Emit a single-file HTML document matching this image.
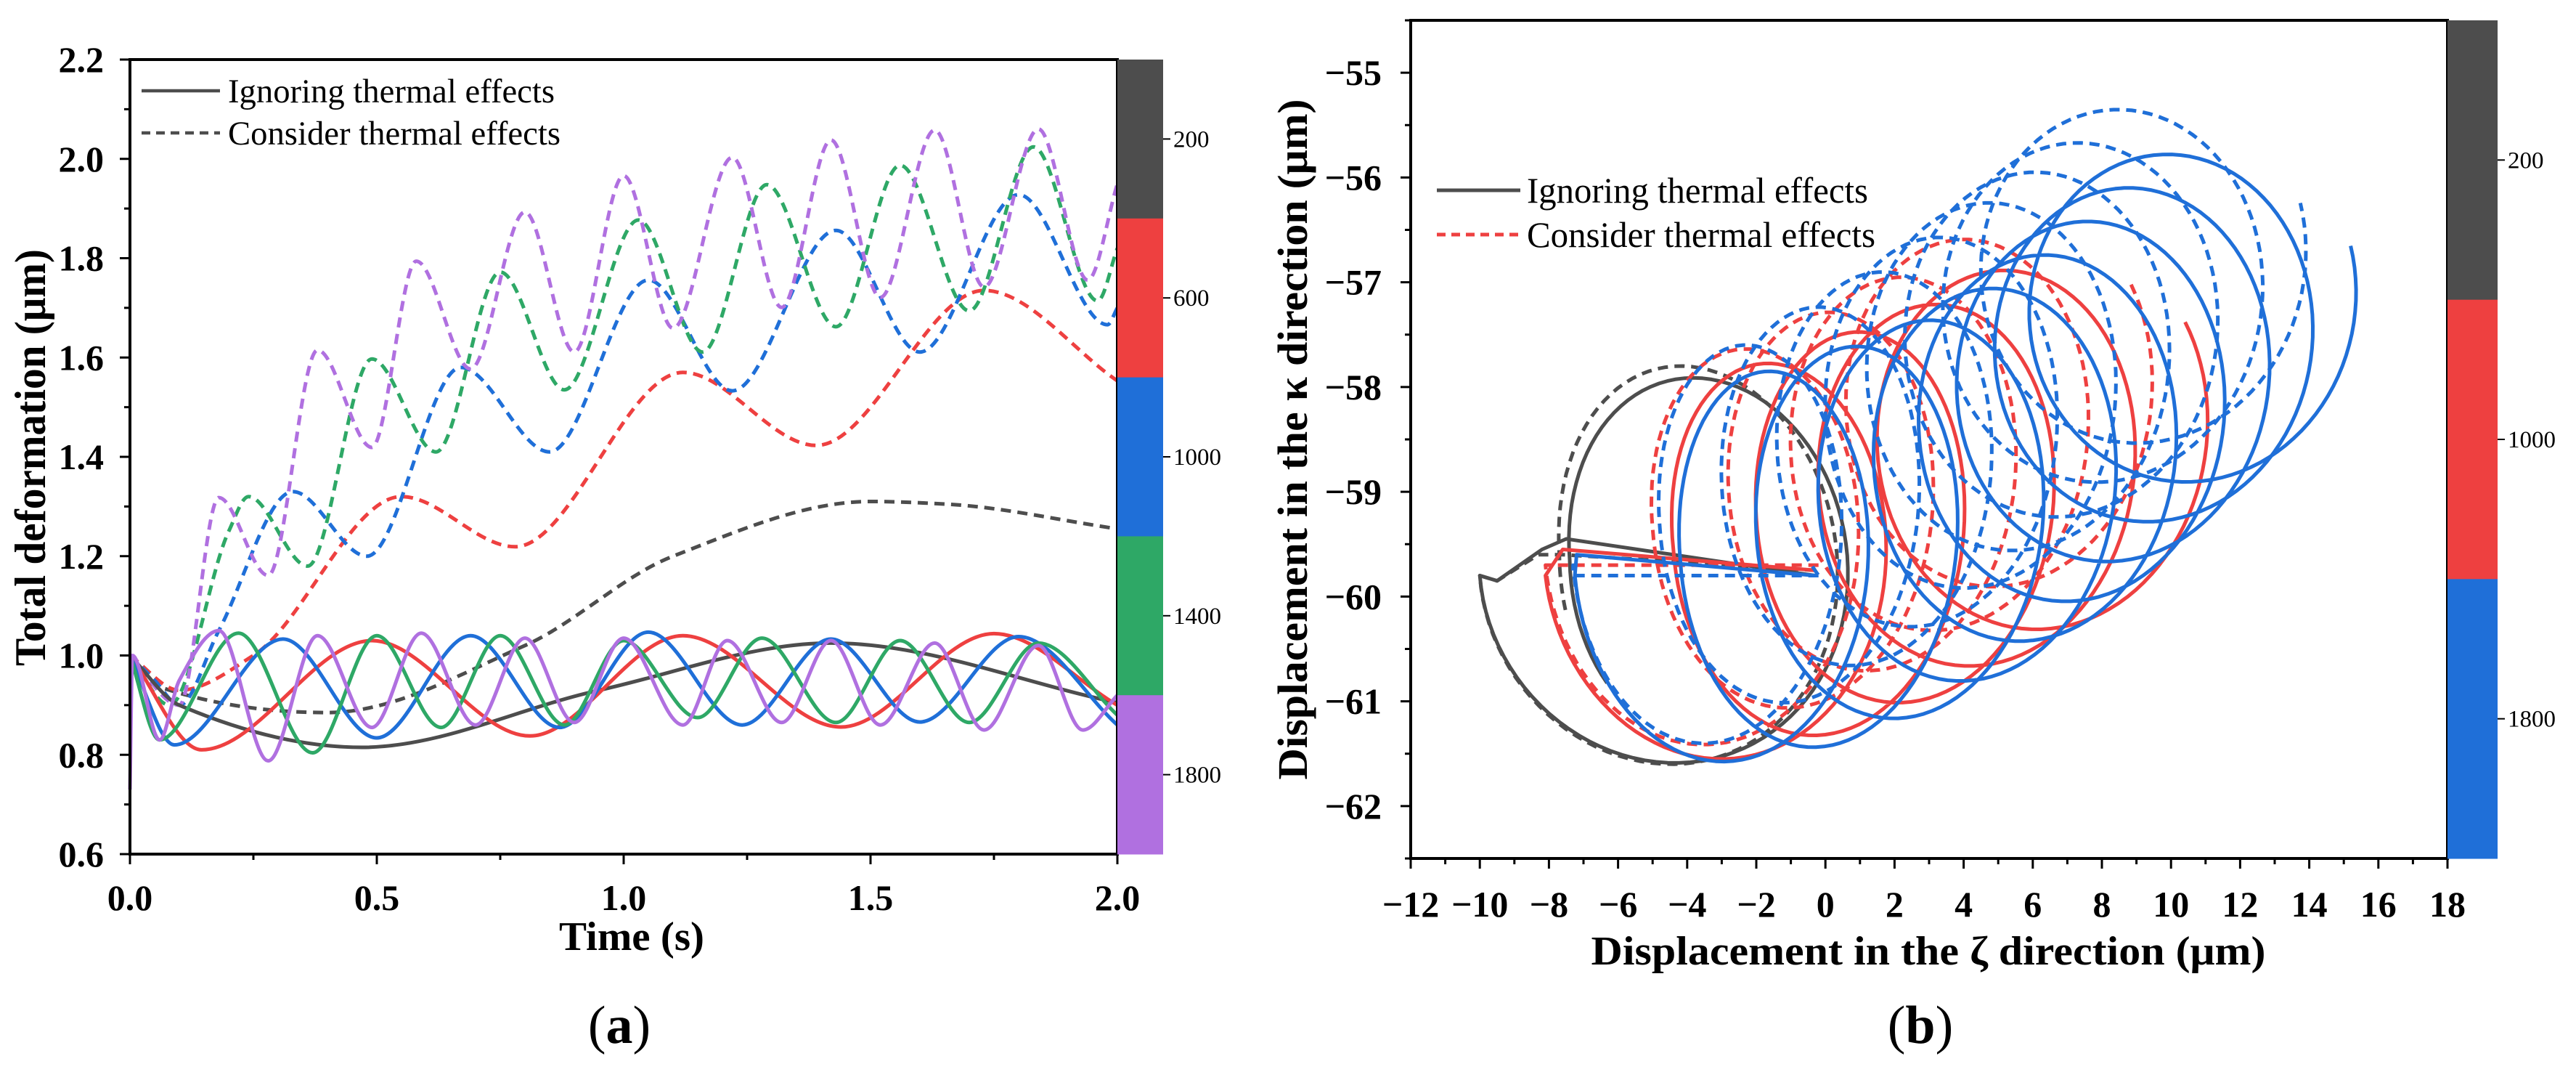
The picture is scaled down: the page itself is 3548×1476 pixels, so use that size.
<!DOCTYPE html>
<html><head><meta charset="utf-8"><style>
html,body{margin:0;padding:0;background:#fff;}
svg{display:block;font-family:"Liberation Serif",serif;}
</style></head><body>
<svg id="fig" width="3548" height="1476" viewBox="0 0 3548 1476" xmlns="http://www.w3.org/2000/svg">
<rect x="0" y="0" width="3548" height="1476" fill="#fff"/>
<g id="pa"></g>
<g id="pb"></g>
</svg>
<script>
// ---------- Chart (a) data ----------
const aTicksX = ["0.0","0.5","1.0","1.5","2.0"];
const aTickValsX = [0,0.5,1.0,1.5,2.0];
const aTicksY = ["0.6","0.8","1.0","1.2","1.4","1.6","1.8","2.0","2.2"];
const aTickValsY = [0.6,0.8,1.0,1.2,1.4,1.6,1.8,2.0,2.2];
const aCbLabels = ["200","600","1000","1400","1800"];
const graySolidT = [0,0.1,0.47,0.95,1.42,2.0];
const graySolidV = [1.0,0.9,0.815,0.93,1.025,0.905];
const grayDashT = [0,0.05,0.4,0.8,1.1,1.5,1.65,2.0];
const grayDashV = [1.0,0.94,0.885,1.02,1.2,1.31,1.305,1.255];
const redSolidT = [0,0.145,0.49,0.81,1.12,1.44,1.75,2.0];
const redSolidV = [1.0,0.81,1.03,0.838,1.04,0.856,1.044,0.9];
const redDashT = [0,0.1,0.25,0.55,0.78,1.12,1.39,1.73,2.0];
const redDashV = [1.0,0.93,1.0,1.32,1.219,1.57,1.423,1.735,1.553];
const blueSolidT = [0,0.09,0.31,0.5,0.69,0.87,1.05,1.24,1.42,1.6,1.8,2.0];
const blueSolidV = [1.0,0.82,1.033,0.834,1.04,0.855,1.047,0.86,1.033,0.866,1.038,0.86];
const blueDashT = [0,0.05,0.1,0.18,0.33,0.48,0.67,0.85,1.05,1.22,1.43,1.6,1.8,1.98,2.0];
const blueDashV = [1.0,0.95,0.9,1.05,1.33,1.2,1.58,1.41,1.756,1.533,1.856,1.611,1.928,1.666,1.7];
const greenSolidT = [0,0.06,0.22,0.37,0.5,0.63,0.75,0.88,1.0,1.15,1.28,1.43,1.56,1.7,1.84,2.0];
const greenSolidV = [1.0,0.83,1.045,0.804,1.04,0.855,1.04,0.86,1.03,0.875,1.035,0.865,1.03,0.865,1.025,0.88];
const greenDashT = [0,0.08,0.2,0.24,0.36,0.49,0.62,0.75,0.88,1.03,1.16,1.29,1.43,1.56,1.7,1.83,1.96,2.0];
const greenDashV = [1.0,0.9,1.25,1.32,1.18,1.597,1.41,1.772,1.535,1.877,1.611,1.948,1.662,1.987,1.694,2.024,1.714,1.82];
const purpleSolidT = [0,0.005,0.06,0.1,0.18,0.28,0.38,0.49,0.59,0.7,0.8,0.9,1.0,1.12,1.21,1.32,1.42,1.52,1.63,1.73,1.84,1.93,2.0];
const purpleSolidV = [0.73,1.0,0.83,0.95,1.05,0.788,1.04,0.855,1.045,0.86,1.035,0.865,1.035,0.86,1.03,0.865,1.03,0.86,1.025,0.85,1.02,0.85,0.92];
const purpleDashT = [0,0.1,0.18,0.28,0.38,0.49,0.58,0.69,0.8,0.9,1.0,1.1,1.22,1.32,1.42,1.52,1.63,1.73,1.84,1.94,2.0];
const purpleDashV = [1.0,0.9,1.318,1.161,1.615,1.419,1.794,1.577,1.893,1.611,1.966,1.659,2.003,1.701,2.038,1.721,2.058,1.742,2.06,1.756,1.95];

// ---------- Chart (b) data ----------
const bTickValsX = [-12,-10,-8,-6,-4,-2,0,2,4,6,8,10,12,14,16,18];
const bTickValsY = [-55,-56,-57,-58,-59,-60,-61,-62];
const bCbLabels = ["200","1000","1800"];
const gSolLeadZ = [-0.3,-7.5,-8.2,-9.5];
const gSolLeadK = [-59.8,-59.45,-59.55,-59.85];
const gSolCz = [-4.45,-3.6,-3.3];
const gSolCk = [-59.8,-59.65,-59.5];
const gSolRx = [5.55,3.8,3.6];
const gSolRy = [1.85,1.75,1.7];
const gSolEnd = 1.12;
const gDashLeadZ = [-0.3,-7.6,-8.3,-9.5];
const gDashLeadK = [-59.75,-59.6,-59.6,-59.85];
const gDashCz = [-4.5,-4.0,-3.8];
const gDashCk = [-59.8,-59.6,-59.5];
const gDashRx = [5.5,3.7,3.5];
const gDashRy = [1.85,1.85,1.8];
const gDashEnd = 1.05;
const rSolLeadZ = [-0.3,-7.6];
const rSolLeadK = [-59.75,-59.55];
const rSolCz = [-3.6,-0.9,1.7,3.8,5.8,7.6];
const rSolCk = [-59.8,-59.55,-59.25,-58.95,-58.6,-58.3];
const rSolRx = [4.5,3.5,3.7,4.0,4.3,4.4];
const rSolRy = [1.8,1.85,1.85,1.8,1.8,1.75];
const rSolEnd = 4.6;
const rDashLeadZ = [-0.2,-7.4];
const rDashLeadK = [-59.7,-59.7];
const rDashCz = [-4.0,-1.6,0.8,2.8,4.6,6.2];
const rDashCk = [-59.7,-59.35,-59.0,-58.65,-58.25,-57.9];
const rDashRx = [4.1,3.4,3.6,3.8,4.0,4.1];
const rDashRy = [1.8,1.8,1.8,1.78,1.75,1.72];
const rDashEnd = 4.6;
const bSolLeadZ = [-0.3,-7.2];
const bSolLeadK = [-59.8,-59.6];
const bSolCz = [-3.6,-0.9,1.6,3.6,5.4,6.8,8.0,9.2,10.3,11.5];
const bSolCk = [-59.8,-59.65,-59.4,-59.1,-58.75,-58.4,-58.05,-57.7,-57.35,-57.0];
const bSolRx = [3.65,3.3,3.6,3.8,4.0,4.1,4.2,4.3,4.4,4.5];
const bSolRy = [1.8,1.85,1.85,1.8,1.77,1.74,1.71,1.68,1.65,1.62];
const bSolEnd = 8.55;
const bDashLeadZ = [-0.2,-7.3];
const bDashLeadK = [-59.8,-59.8];
const bDashCz = [-4.0,-1.6,0.4,2.2,3.8,5.2,6.5,7.7,8.9,10.0];
const bDashCk = [-59.7,-59.3,-58.95,-58.6,-58.25,-57.9,-57.6,-57.3,-56.95,-56.6];
const bDashRx = [3.3,3.2,3.4,3.6,3.8,4.0,4.2,4.3,4.4,4.5];
const bDashRy = [1.8,1.8,1.8,1.78,1.76,1.74,1.72,1.7,1.68,1.65];
const bDashEnd = 8.55;

const NS = "http://www.w3.org/2000/svg";
const C = {gray:"#4d4d4d", red:"#ee4040", blue:"#1f6fd8", green:"#2ea866", purple:"#b070e0"};
function mk(parent, tag, attrs, text){
  const e = document.createElementNS(NS, tag);
  for (const k in attrs) e.setAttribute(k, attrs[k]);
  if (text !== undefined) e.textContent = text;
  parent.appendChild(e);
  return e;
}

// ================= Chart (a) =================
const A = document.getElementById('pa');
const aL=179, aR=1539, aT=82, aB=1176;
const ax = t => aL + t/2*(aR-aL);
const ay = v => aT + (2.2-v)/1.6*(aB-aT);

// monotone cubic (Fritsch-Carlson) path
function monoPath(T,V){
  const n=T.length, d=[], m=new Array(n);
  for(let i=0;i<n-1;i++) d.push((V[i+1]-V[i])/(T[i+1]-T[i]));
  m[0]=d[0]; m[n-1]=d[n-2];
  for(let i=1;i<n-1;i++){
    if(d[i-1]*d[i]<=0) m[i]=0;
    else { const w1=2*(T[i+1]-T[i])+(T[i]-T[i-1]), w2=(T[i+1]-T[i])+2*(T[i]-T[i-1]);
      m[i]=(w1+w2)/(w1/d[i-1]+w2/d[i]); }
  }
  let p="M"+ax(T[0]).toFixed(1)+","+ay(V[0]).toFixed(1);
  for(let i=0;i<n-1;i++){
    const h=T[i+1]-T[i];
    p+=" C"+ax(T[i]+h/3).toFixed(1)+","+ay(V[i]+m[i]*h/3).toFixed(1)+" "+
       ax(T[i+1]-h/3).toFixed(1)+","+ay(V[i+1]-m[i+1]*h/3).toFixed(1)+" "+
       ax(T[i+1]).toFixed(1)+","+ay(V[i+1]).toFixed(1);
  }
  return p;
}
const aSeries = [
  ["gray-dashed-200", grayDashT, grayDashV, C.gray, true],
  ["red-dashed-600", redDashT, redDashV, C.red, true],
  ["blue-dashed-1000", blueDashT, blueDashV, C.blue, true],
  ["green-dashed-1400", greenDashT, greenDashV, C.green, true],
  ["purple-dashed-1800", purpleDashT, purpleDashV, C.purple, true],
  ["gray-solid-200", graySolidT, graySolidV, C.gray, false],
  ["red-solid-600", redSolidT, redSolidV, C.red, false],
  ["blue-solid-1000", blueSolidT, blueSolidV, C.blue, false],
  ["green-solid-1400", greenSolidT, greenSolidV, C.green, false],
  ["purple-solid-1800", purpleSolidT, purpleSolidV, C.purple, false]
];
const aLines = mk(A,'g',{});


aSeries.forEach(s=>{
  const p = mk(aLines,'path',{d:monoPath(s[1],s[2]),fill:"none",stroke:s[3],"stroke-width":5,"stroke-linejoin":"round"});
  if (s[4]) p.setAttribute('stroke-dasharray','14 9');
  
  
});
const af = mk(A,'rect',{x:aL,y:aT,width:aR-aL,height:aB-aT,fill:"none",stroke:"#000","stroke-width":4});


for (let k=0;k<=8;k++){
  const t=k*0.25, major=(k%2===0);
  mk(A,'line',{x1:ax(t),x2:ax(t),y1:aB,y2:aB+(major?14:8),stroke:"#000","stroke-width":3});
}
aTickValsX.forEach((v,i)=>{
  const tx = mk(A,'text',{x:ax(v),y:1253,"text-anchor":"middle","font-size":50,"font-weight":"bold"},aTicksX[i]);
  
  
});
for (let k=0;k<=16;k++){
  const v=0.6+k*0.1, major=k%2===0;
  mk(A,'line',{x1:aL,x2:aL-(major?14:8),y1:ay(v),y2:ay(v),stroke:"#000","stroke-width":3});
}
aTickValsY.forEach((v,i)=>{
  const ty = mk(A,'text',{x:143,y:ay(v)+17,"text-anchor":"end","font-size":50,"font-weight":"bold"},aTicksY[i]);
  
  
});
const axt = mk(A,'text',{x:870,y:1308,"text-anchor":"middle","font-size":56,"font-weight":"bold",textLength:200,lengthAdjust:"spacingAndGlyphs"},"Time (s)");


const ayt = mk(A,'text',{x:0,y:0,"text-anchor":"middle","font-size":60,"font-weight":"bold",textLength:574,lengthAdjust:"spacingAndGlyphs",transform:"translate(62,630) rotate(-90)"},"Total deformation (μm)");


const aLeg = mk(A,'g',{});


mk(aLeg,'line',{x1:195,x2:303,y1:125,y2:125,stroke:C.gray,"stroke-width":4.5});
mk(aLeg,'line',{x1:195,x2:303,y1:183,y2:183,stroke:C.gray,"stroke-width":4.5,"stroke-dasharray":"12 8"});
mk(aLeg,'text',{x:314,y:141,"font-size":47,textLength:450,lengthAdjust:"spacingAndGlyphs"},"Ignoring thermal effects");
mk(aLeg,'text',{x:314,y:199,"font-size":47,textLength:458,lengthAdjust:"spacingAndGlyphs"},"Consider thermal effects");
const aCb = mk(A,'g',{});


const aCbCols=[C.gray,C.red,C.blue,C.green,C.purple];
const segA=(aB-aT)/aCbLabels.length;
aCbLabels.forEach((lab,i)=>{
  mk(aCb,'rect',{x:1539,y:aT+i*segA,width:63,height:segA+0.5,fill:aCbCols[i]});
  const cy=aT+(i+0.5)*segA;
  mk(aCb,'line',{x1:1602,x2:1612,y1:cy,y2:cy,stroke:"#000","stroke-width":2});
  mk(aCb,'text',{x:1616,y:cy+11,"font-size":33},lab);
});
const capA = mk(A,'text',{x:853,y:1436,"text-anchor":"middle","font-size":74},"");
capA.innerHTML='(<tspan font-weight="bold">a</tspan>)';



// ================= Chart (b) =================
const B = document.getElementById('pb');
const bL=1943, bR=3371, bT=28, bBt=1182;
const bx = z => bL + (z+12)/30*(bR-bL);
const by = k => bT + (-54.5-k)/8*(bBt-bT);
function spiral(LZ,LK,CZ,CK,RX,RY,uEnd){
  let d="M"+bx(LZ[0]).toFixed(1)+","+by(LK[0]).toFixed(1);
  for(let i=1;i<LZ.length;i++) d+=" L"+bx(LZ[i]).toFixed(1)+","+by(LK[i]).toFixed(1);
  const n=CZ.length;
  for(let u=0;u<=uEnd+1e-9;u+=0.01){
    const i=Math.min(Math.floor(u),n-1), j=Math.min(i+1,n-1), f=u-Math.floor(u);
    const cz=CZ[i]+(CZ[j]-CZ[i])*f, ck=CK[i]+(CK[j]-CK[i])*f;
    const rx=RX[i]+(RX[j]-RX[i])*f, ry=RY[i]+(RY[j]-RY[i])*f;
    const th=Math.PI+2*Math.PI*u;
    d+=" L"+bx(cz+rx*Math.cos(th)).toFixed(1)+","+by(ck+ry*Math.sin(th)).toFixed(1);
  }
  return d;
}
const bSeries=[
  ["gray-dashed-200",gDashLeadZ,gDashLeadK,gDashCz,gDashCk,gDashRx,gDashRy,gDashEnd,C.gray,true],
  ["gray-solid-200",gSolLeadZ,gSolLeadK,gSolCz,gSolCk,gSolRx,gSolRy,gSolEnd,C.gray,false],
  ["red-dashed-1000",rDashLeadZ,rDashLeadK,rDashCz,rDashCk,rDashRx,rDashRy,rDashEnd,C.red,true],
  ["red-solid-1000",rSolLeadZ,rSolLeadK,rSolCz,rSolCk,rSolRx,rSolRy,rSolEnd,C.red,false],
  ["blue-dashed-1800",bDashLeadZ,bDashLeadK,bDashCz,bDashCk,bDashRx,bDashRy,bDashEnd,C.blue,true],
  ["blue-solid-1800",bSolLeadZ,bSolLeadK,bSolCz,bSolCk,bSolRx,bSolRy,bSolEnd,C.blue,false]
];
const bLines = mk(B,'g',{});


bSeries.forEach(s=>{
  const p=mk(bLines,'path',{d:spiral(s[1],s[2],s[3],s[4],s[5],s[6],s[7]),fill:"none",stroke:s[8],"stroke-width":5,"stroke-linejoin":"round"});
  if(s[9]) p.setAttribute('stroke-dasharray','14 9');
  
  
});
const bf = mk(B,'rect',{x:bL,y:bT,width:bR-bL,height:bBt-bT,fill:"none",stroke:"#000","stroke-width":4});


for(let z=-12;z<=18;z++){
  const major=(z%2===0);
  mk(B,'line',{x1:bx(z),x2:bx(z),y1:bBt,y2:bBt+(major?14:8),stroke:"#000","stroke-width":3});
}
bTickValsX.forEach(v=>{
  const t=mk(B,'text',{x:bx(v),y:1262,"text-anchor":"middle","font-size":50,"font-weight":"bold"},(v<0?"−":"")+Math.abs(v));
  
  
});
for(let j=0;j<=16;j++){
  const k=-62.5+j*0.5, major=(j%2===1);
  mk(B,'line',{x1:bL,x2:bL-(major?14:8),y1:by(k),y2:by(k),stroke:"#000","stroke-width":3});
}
bTickValsY.forEach(v=>{
  const t=mk(B,'text',{x:1903,y:by(v)+17,"text-anchor":"end","font-size":50,"font-weight":"bold"},"−"+Math.abs(v));
  
  
});
const bxt=mk(B,'text',{x:2656,y:1328,"text-anchor":"middle","font-size":56,"font-weight":"bold",textLength:929,lengthAdjust:"spacingAndGlyphs"},"Displacement in the ζ direction (μm)");


const byt=mk(B,'text',{x:0,y:0,"text-anchor":"middle","font-size":58,"font-weight":"bold",textLength:937,lengthAdjust:"spacingAndGlyphs",transform:"translate(1800,605) rotate(-90)"},"Displacement in the κ direction (μm)");


const bLeg=mk(B,'g',{});


mk(bLeg,'line',{x1:1979,x2:2094,y1:262,y2:262,stroke:C.gray,"stroke-width":5});
mk(bLeg,'line',{x1:1979,x2:2094,y1:323,y2:323,stroke:C.red,"stroke-width":5,"stroke-dasharray":"12 8"});
mk(bLeg,'text',{x:2103,y:279,"font-size":50,textLength:470,lengthAdjust:"spacingAndGlyphs"},"Ignoring thermal effects");
mk(bLeg,'text',{x:2103,y:340,"font-size":50,textLength:480,lengthAdjust:"spacingAndGlyphs"},"Consider thermal effects");
const bCb=mk(B,'g',{});


const bCbCols=[C.gray,C.red,C.blue];
const segB=(bBt-bT)/bCbLabels.length;
bCbLabels.forEach((lab,i)=>{
  mk(bCb,'rect',{x:3371,y:bT+i*segB,width:69,height:segB+0.5,fill:bCbCols[i]});
  const cy=bT+(i+0.5)*segB;
  mk(bCb,'line',{x1:3440,x2:3450,y1:cy,y2:cy,stroke:"#000","stroke-width":2});
  mk(bCb,'text',{x:3454,y:cy+11,"font-size":33},lab);
});
const capB=mk(B,'text',{x:2645,y:1436,"text-anchor":"middle","font-size":74},"");
capB.innerHTML='(<tspan font-weight="bold">b</tspan>)';


</script>
</body></html>
